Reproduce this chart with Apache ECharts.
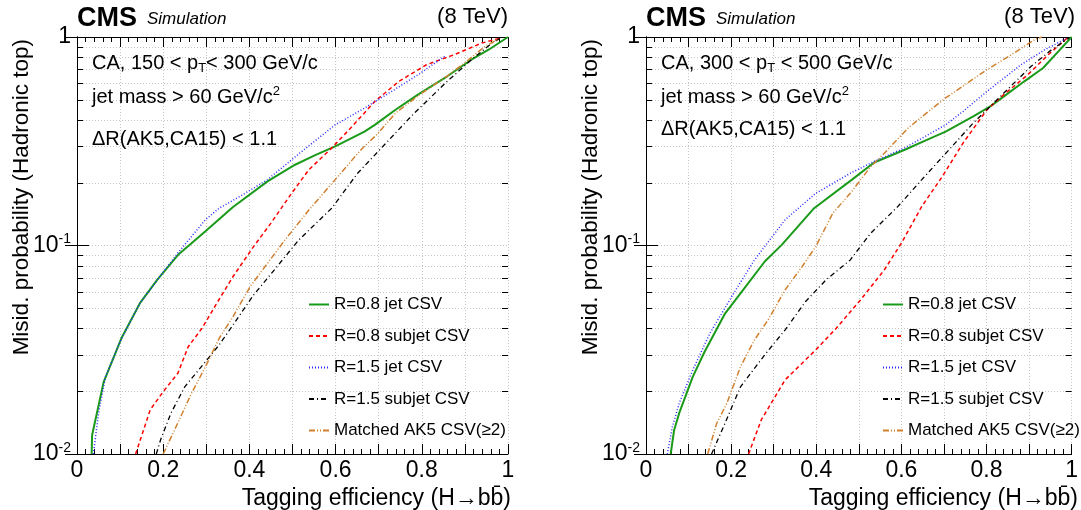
<!DOCTYPE html>
<html>
<head>
<meta charset="utf-8">
<script src="https://cdn.jsdelivr.net/npm/echarts@6/dist/echarts.min.js"></script>
<style>
    html, body { margin: 0; padding: 0; background: #fff; }
    #chart { width: 1081px; height: 510px; }
</style>
</head>
<body>
<div id="chart"></div>
<script>
    // names of the curves (legend order)
    const names = ['R=0.8 jet CSV', 'R=0.8 subjet CSV', 'R=1.5 jet CSV', 'R=1.5 subjet CSV', 'Matched AK5 CSV(\u22652)'];

    // left panel: 150 < pT < 300
    const left08jet = [[0.034,0.01],[0.035,0.0123],[0.062,0.0222],[0.103,0.0359],[0.146,0.0529],[0.186,0.0684],[0.234,0.090],[0.298,0.117],[0.362,0.153],[0.442,0.203],[0.506,0.244],[0.554,0.272],[0.599,0.299],[0.667,0.352],[0.691,0.379],[0.739,0.448],[0.791,0.529],[0.859,0.648],[0.915,0.778],[0.955,0.869],[1.0,1.0]];
    const left08sub = [[0.136,0.01],[0.170,0.0163],[0.200,0.0199],[0.234,0.0244],[0.258,0.0327],[0.290,0.0401],[0.322,0.0519],[0.362,0.071],[0.410,0.099],[0.450,0.128],[0.498,0.178],[0.538,0.231],[0.587,0.288],[0.635,0.366],[0.691,0.491],[0.747,0.613],[0.811,0.736],[0.875,0.822],[0.939,0.935],[0.985,0.99]];
    const left15jet = [[0.038,0.01],[0.050,0.0157],[0.066,0.0235],[0.102,0.0353],[0.146,0.0529],[0.190,0.070],[0.234,0.092],[0.298,0.133],[0.330,0.151],[0.378,0.172],[0.442,0.207],[0.522,0.283],[0.599,0.379],[0.667,0.456],[0.739,0.563],[0.795,0.667],[0.855,0.813]];
    const left15sub = [[0.184,0.01],[0.194,0.0117],[0.218,0.0157],[0.250,0.021],[0.298,0.0277],[0.330,0.0334],[0.362,0.0416],[0.410,0.058],[0.458,0.0764],[0.514,0.106],[0.591,0.151],[0.651,0.222],[0.699,0.283],[0.779,0.424],[0.859,0.613],[0.915,0.778],[0.963,0.935],[0.987,1.0]];
    const leftAK5 = [[0.200,0.01],[0.226,0.013],[0.266,0.0196],[0.298,0.0262],[0.330,0.0359],[0.362,0.0456],[0.402,0.0636],[0.442,0.0822],[0.482,0.106],[0.538,0.148],[0.599,0.207],[0.659,0.288],[0.699,0.346],[0.739,0.432],[0.795,0.529],[0.859,0.65],[0.899,0.75],[0.947,0.902],[0.979,0.98]];

    // right panel: 300 < pT < 500
    const right08jet = [[0.058,0.01],[0.066,0.013],[0.078,0.0157],[0.110,0.0235],[0.138,0.031],[0.186,0.0473],[0.222,0.059],[0.279,0.0838],[0.319,0.1007],[0.395,0.151],[0.484,0.207],[0.536,0.25],[0.608,0.288],[0.652,0.316],[0.704,0.352],[0.769,0.416],[0.809,0.465],[0.841,0.519],[0.889,0.613],[0.933,0.71],[0.969,0.853],[1.0,1.0]];
    const right08sub = [[0.241,0.01],[0.271,0.0146],[0.327,0.0227],[0.399,0.0316],[0.447,0.0401],[0.504,0.0548],[0.560,0.0764],[0.600,0.1026],[0.648,0.154],[0.696,0.214],[0.745,0.31],[0.801,0.448],[0.841,0.53],[0.897,0.659],[0.945,0.822],[0.99,0.99]];
    const right15jet = [[0.050,0.01],[0.062,0.0135],[0.078,0.0175],[0.110,0.0253],[0.150,0.0379],[0.206,0.059],[0.255,0.0853],[0.327,0.133],[0.399,0.178],[0.480,0.222],[0.536,0.253],[0.608,0.294],[0.704,0.379],[0.745,0.44],[0.801,0.548],[0.881,0.736],[0.937,0.869],[0.986,0.98]];
    const right15sub = [[0.154,0.01],[0.182,0.0135],[0.222,0.021],[0.279,0.0299],[0.327,0.0394],[0.375,0.0539],[0.423,0.0684],[0.480,0.0853],[0.528,0.1146],[0.592,0.154],[0.648,0.207],[0.712,0.288],[0.769,0.387],[0.801,0.448],[0.857,0.58],[0.905,0.724],[0.953,0.869],[0.994,0.99]];
    const rightAK5 = [[0.145,0.01],[0.166,0.014],[0.190,0.0175],[0.222,0.0262],[0.255,0.0353],[0.287,0.044],[0.327,0.0613],[0.367,0.0793],[0.399,0.099],[0.439,0.143],[0.480,0.178],[0.528,0.239],[0.560,0.277],[0.616,0.366],[0.664,0.44],[0.704,0.51],[0.801,0.697],[0.865,0.838],[0.913,0.971],[0.930,1.0]];

    // log axis minor positions (grid + ticks)
    const yMinorTicks = [0.02,0.03,0.04,0.05,0.06,0.07,0.08,0.09,0.2,0.3,0.4,0.5,0.6,0.7,0.8,0.9];
    const xLabelValues = [0, 0.2, 0.4, 0.6, 0.8, 1];

    const font = 'Liberation Sans, Arial, sans-serif';
    const styles = [
        {color: '#1a9a1a', width: 2, type: 'solid'},
        {color: '#ff0000', width: 1.5, type: [4, 3]},
        {color: '#2b2bff', width: 1.5, type: [1, 2]},
        {color: '#000000', width: 1.3, type: [5, 3, 1, 3]},
        {color: '#d0802f', width: 1.5, type: [6, 2, 1, 2, 1, 2]}
    ];

    const grids = [
        {left: 77, top: 37, width: 431, height: 417},
        {left: 646, top: 37, width: 429, height: 417}
    ];

    function xAxes(g) {
        const bottom = {
            gridIndex: g, type: 'value', min: 0, max: 1, interval: 0.1,
            axisLine: {lineStyle: {color: '#000', width: 1}},
            axisTick: {inside: true, length: 10, lineStyle: {color: '#000'}},
            minorTick: {show: true, splitNumber: 5, length: 5, lineStyle: {color: '#000'}},
            splitLine: {show: true, lineStyle: {color: '#c4c4c4', type: [1, 2]}},
            axisLabel: {
                margin: 5, fontSize: 23, color: '#000', fontFamily: font,
                formatter: function (v) {
                    const r = Math.round(v * 10) / 10;
                    return xLabelValues.some(x => Math.abs(x - r) < 1e-6) ? String(r) : '';
                }
            }
        };
        const top = {
            gridIndex: g, type: 'value', min: 0, max: 1, interval: 0.1, position: 'top',
            axisLine: {lineStyle: {color: '#000', width: 1}},
            axisTick: {inside: true, length: 10, lineStyle: {color: '#000'}},
            minorTick: {show: true, splitNumber: 5, length: 5, lineStyle: {color: '#000'}},
            splitLine: {show: false},
            axisLabel: {show: false}
        };
        return [bottom, top];
    }

    function yAxes(g) {
        const left = {
            gridIndex: g, type: 'log', logBase: 10, min: 0.01, max: 1,
            axisLine: {lineStyle: {color: '#000', width: 1}},
            axisTick: {inside: true, length: 12, lineStyle: {color: '#000'}},
            splitLine: {show: true, lineStyle: {color: '#c4c4c4', type: [1, 2]}},
            axisLabel: {
                margin: 6, color: '#000', fontFamily: font,
                formatter: function (v) {
                    if (v > 0.5) return '{n|1}';
                    if (v > 0.05) return '{n|10}{s|-1}';
                    return '{n|10}{s|-2}';
                },
                rich: {
                    n: {fontSize: 23, fontFamily: font, color: '#000', lineHeight: 26},
                    s: {fontSize: 14, fontFamily: font, color: '#000', verticalAlign: 'top', lineHeight: 14}
                }
            }
        };
        const right = {
            gridIndex: g, type: 'log', logBase: 10, min: 0.01, max: 1, position: 'right',
            axisLine: {lineStyle: {color: '#000', width: 1}},
            axisTick: {inside: true, length: 12, lineStyle: {color: '#000'}},
            splitLine: {show: false},
            axisLabel: {show: false}
        };
        return [left, right];
    }

    function minorRender(params, api) {
        const v = api.value(1);
        const p0 = api.coord([0, v]);
        const p1 = api.coord([1, v]);
        const y = Math.round(p0[1]) + 0.5;
        return {
            type: 'group',
            children: [
                {type: 'line', shape: {x1: p0[0], y1: y, x2: p1[0], y2: y}, style: {stroke: '#c4c4c4', lineWidth: 1, lineDash: [1, 2]}},
                {type: 'line', shape: {x1: p0[0], y1: y, x2: p0[0] + 6, y2: y}, style: {stroke: '#000', lineWidth: 1}},
                {type: 'line', shape: {x1: p1[0] - 6, y1: y, x2: p1[0], y2: y}, style: {stroke: '#000', lineWidth: 1}}
            ]
        };
    }

    function panelSeries(g, curves) {
        const xi = g * 2, yi = g * 2;
        const out = [{
            type: 'custom', xAxisIndex: xi, yAxisIndex: yi, z: 1, silent: true,
            renderItem: minorRender,
            data: yMinorTicks.map(v => [0, v])
        }];
        curves.forEach(function (d, i) {
            out.push({
                name: names[i], type: 'line', xAxisIndex: xi, yAxisIndex: yi, z: 3,
                symbol: 'none', smooth: false, data: d,
                lineStyle: styles[i], itemStyle: {color: styles[i].color}
            });
        });
        return out;
    }

    function annotation(left, top, text) {
        return {
            left: left, top: top, padding: 0, text: text,
            textStyle: {
                fontSize: 20, fontWeight: 'normal', fontFamily: font, color: '#000',
                rich: {
                    t: {fontSize: 20, fontFamily: font, color: '#000', lineHeight: 24},
                    sub: {fontSize: 13, fontFamily: font, color: '#000', verticalAlign: 'bottom', lineHeight: 12},
                    sup: {fontSize: 13, fontFamily: font, color: '#000', verticalAlign: 'top', lineHeight: 12}
                }
            }
        };
    }

    function header(left, right) {
        return [
            {
                left: left, top: 5, padding: 0, text: '{b|CMS}  {i|Simulation}',
                textStyle: {
                    fontWeight: 'normal',
                    rich: {
                        b: {fontSize: 27, fontWeight: 'bold', fontFamily: font, color: '#000', lineHeight: 28},
                        i: {fontSize: 17, fontStyle: 'italic', fontWeight: 'normal', fontFamily: font, color: '#000', lineHeight: 24}
                    }
                }
            },
            {
                right: right, top: 6, padding: 0, text: '(8 TeV)',
                textStyle: {fontSize: 22, fontWeight: 'normal', fontFamily: font, color: '#000'}
            }
        ];
    }

    function legendFor(left) {
        return {
            left: left, top: 291, orient: 'vertical', selectedMode: false,
            itemWidth: 20, itemHeight: 12, itemGap: 14.5,
            itemStyle: {color: 'rgba(0,0,0,0)', borderWidth: 0},
            textStyle: {fontSize: 17, fontFamily: font, color: '#000'},
            data: names
        };
    }

    function axisTitles(g, label) {
        const gr = grids[g];
        return [
            {
                type: 'text', x: gr.left - 55, y: gr.top + 2, rotation: Math.PI / 2,
                style: {text: 'Misid. probability (Hadronic top)', fontSize: 22.5, fontFamily: font, fill: '#000', textAlign: 'right', textVerticalAlign: 'middle'}
            },
            {
                type: 'text', x: gr.left + gr.width + 3, y: 499,
                style: {text: label, fontSize: 23, fontFamily: font, fill: '#000', textAlign: 'right', textVerticalAlign: 'middle'}
            }
        ];
    }

    const xName = 'Tagging efficiency (H\u2192bb\u0304)';

    const chart = echarts.init(document.getElementById('chart'), null, {renderer: 'canvas'});
    chart.setOption({
        animation: false,
        backgroundColor: '#fff',
        grid: grids,
        xAxis: xAxes(0).concat(xAxes(1)),
        yAxis: yAxes(0).concat(yAxes(1)),
        title: header(77, 1081 - 508).concat(header(646, 1081 - 1075)).concat([
            annotation(92, 51, '{t|CA, 150 < p}{sub|T}{t|< 300 GeV/c}'),
            annotation(92, 85, '{t|jet mass > 60 GeV/c}{sup|2}'),
            annotation(92, 127, '{t|\u0394R(AK5,CA15) < 1.1}'),
            annotation(661, 51, '{t|CA, 300 < p}{sub|T}{t| < 500 GeV/c}'),
            annotation(661, 85, '{t|jet mass > 60 GeV/c}{sup|2}'),
            annotation(661, 117, '{t|\u0394R(AK5,CA15) < 1.1}')
        ]),
        legend: [legendFor(303), legendFor(877)],
        graphic: axisTitles(0, xName).concat(axisTitles(1, xName)),
        series: panelSeries(0, [left08jet, left08sub, left15jet, left15sub, leftAK5])
            .concat(panelSeries(1, [right08jet, right08sub, right15jet, right15sub, rightAK5]))
    });
</script>
</body>
</html>
